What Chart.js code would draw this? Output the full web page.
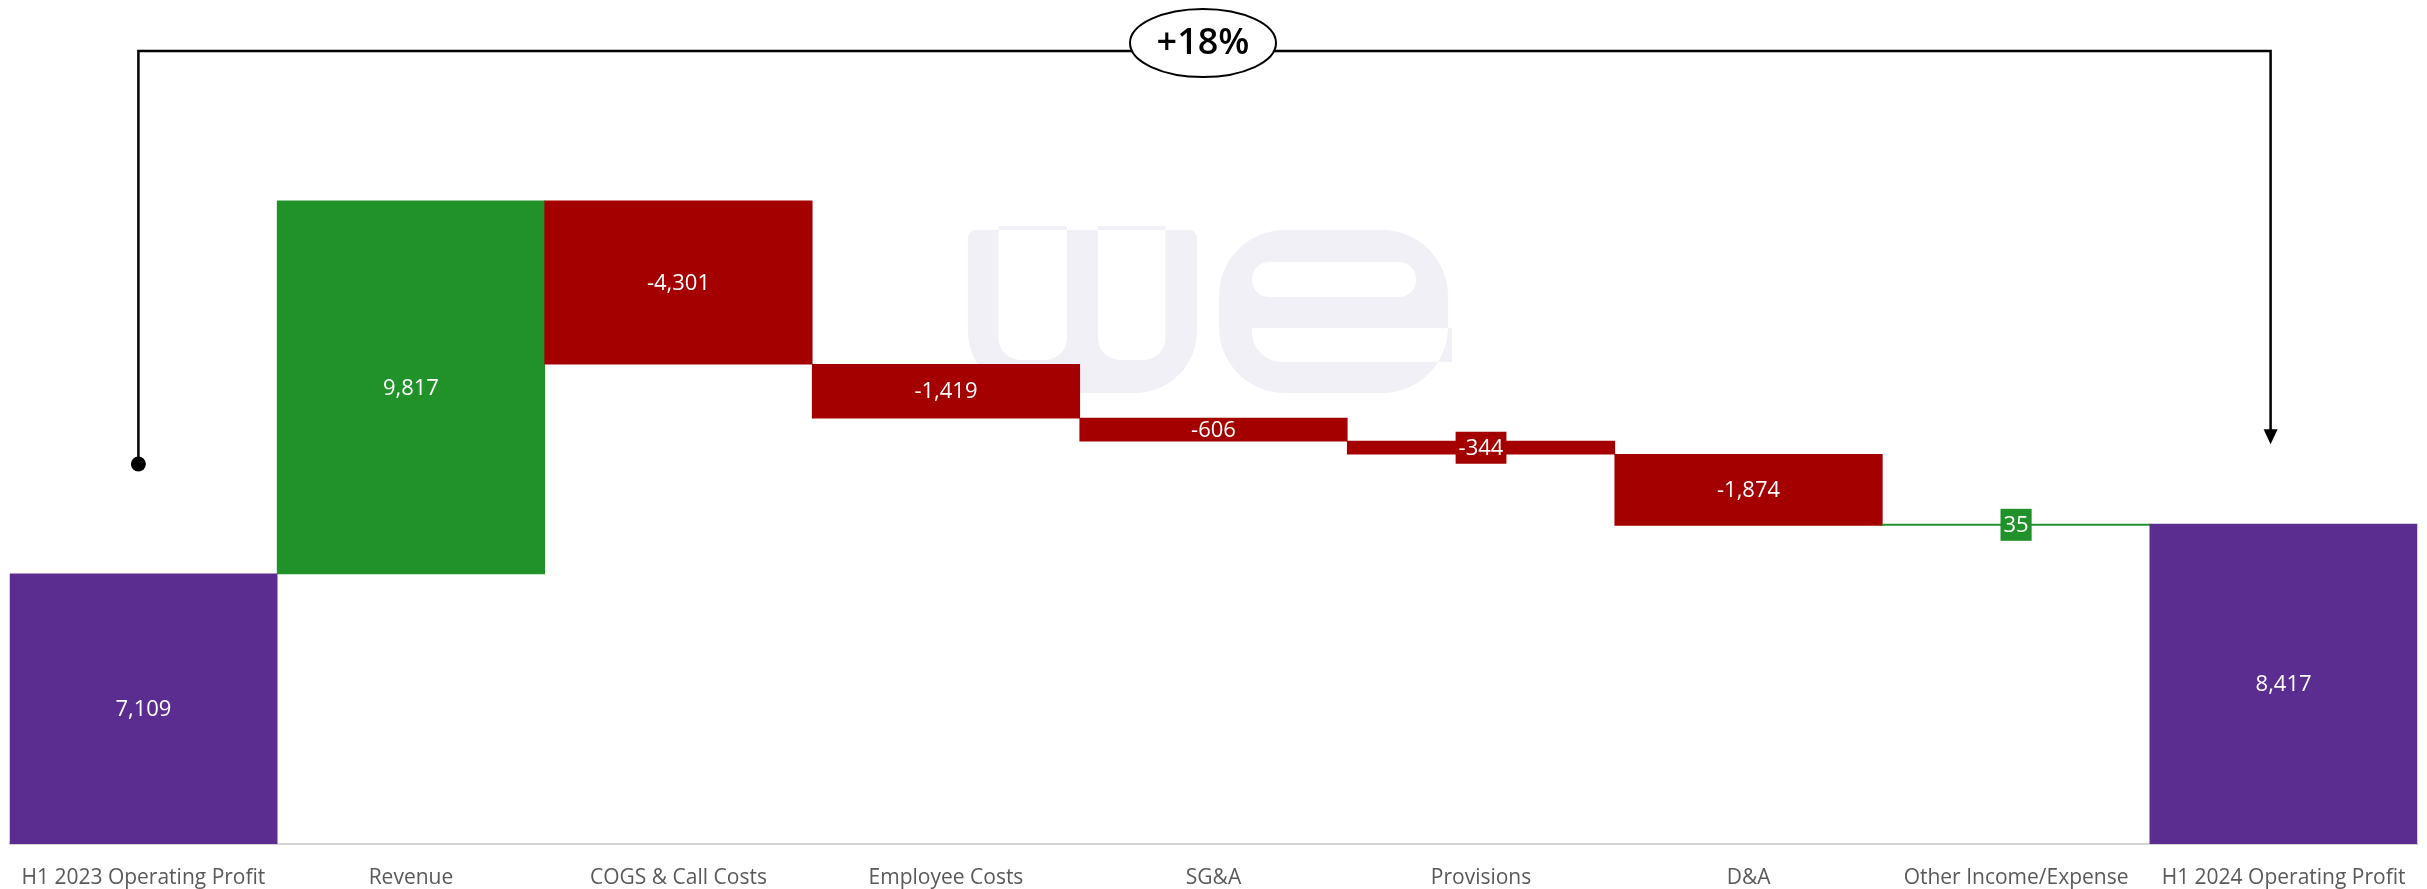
<!DOCTYPE html>
<html>
<head>
<meta charset="utf-8">
<script src="https://cdn.jsdelivr.net/npm/chart.js@4.4.1/dist/chart.umd.min.js"></script>
<style>
  html, body { margin: 0; padding: 0; background: #fff; }
  #wrap { width: 2427px; height: 889px; position: relative; }
</style>
</head>
<body>
<div id="wrap"><canvas id="myChart"></canvas></div>
<script>
const labels = ['H1 2023 Operating Profit', 'Revenue', 'COGS & Call Costs', 'Employee Costs', 'SG&A', 'Provisions', 'D&A', 'Other Income/Expense', 'H1 2024 Operating Profit'];
const values = [7109, 9817, -4301, -1419, -606, -344, -1874, 35, 8417];
const isTotal = [true, false, false, false, false, false, false, false, true];
const changeLabel = '+18%';

const PURPLE = '#5c2d91';
const GREEN = '#21922a';
const RED = '#a50000';

// running total -> floating bars
let run = 0;
const ranges = values.map((v, i) => {
  if (isTotal[i]) { run = v; return [0, v]; }
  const r = [run, run + v];
  run += v;
  return r;
});
const colors = values.map((v, i) => isTotal[i] ? PURPLE : (v >= 0 ? GREEN : RED));

// faint "we" logo behind the chart
const watermark = {
  id: 'watermark',
  beforeDraw(chart) {
    const ctx = chart.ctx;
    ctx.save();
    ctx.fillStyle = '#f0f0f6';
    // w
    ctx.beginPath();
    ctx.roundRect(968, 230, 229, 163, [8, 8, 62, 62]);
    ctx.roundRect(998.5, 226, 68.5, 134, [0, 0, 22, 22]);
    ctx.roundRect(1098, 226, 67.5, 134, [0, 0, 22, 22]);
    ctx.fill('evenodd');
    // e
    ctx.beginPath();
    ctx.roundRect(1219, 230, 229, 163, 66);
    ctx.roundRect(1252, 262, 164, 35, 17);
    ctx.roundRect(1252, 328, 200, 34, [0, 0, 0, 30]);
    ctx.fill('evenodd');
    ctx.restore();
  }
};

// value labels in the bars
const barLabels = {
  id: 'barLabels',
  afterDatasetsDraw(chart) {
    const ctx = chart.ctx;
    const meta = chart.getDatasetMeta(0);
    ctx.save();
    ctx.font = '22px "Open Sans"';
    ctx.textAlign = 'center';
    ctx.textBaseline = 'middle';
    meta.data.forEach((bar, i) => {
      const txt = values[i].toLocaleString('en-US');
      const cy = (bar.y + bar.base) / 2;
      const hgt = Math.abs(bar.base - bar.y);
      if (hgt < 18) {
        const tw = ctx.measureText(txt).width + 6;
        ctx.fillStyle = colors[i];
        ctx.fillRect(bar.x - tw / 2, cy - 16, tw, 32);
      }
      ctx.fillStyle = '#fff';
      ctx.fillText(txt, bar.x, cy + 1);
    });
    ctx.restore();
  }
};

// bracket with change badge on top
const bracket = {
  id: 'bracket',
  afterDraw(chart) {
    const ctx = chart.ctx;
    const meta = chart.getDatasetMeta(0);
    const ys = chart.scales.y;
    const x1 = meta.data[0].x - 5;
    const x2 = meta.data[meta.data.length - 1].x - 13;
    const top = chart.chartArea.top - 33;
    const yDot = ys.getPixelForValue(10000);
    const yTip = ys.getPixelForValue(10520);
    ctx.save();
    ctx.strokeStyle = '#000';
    ctx.fillStyle = '#000';
    ctx.lineWidth = 2.5;
    ctx.beginPath();
    ctx.moveTo(x1, yDot);
    ctx.lineTo(x1, top);
    ctx.lineTo(x2, top);
    ctx.lineTo(x2, yTip - 14);
    ctx.stroke();
    ctx.beginPath();
    ctx.arc(x1, yDot, 7.5, 0, Math.PI * 2);
    ctx.fill();
    ctx.beginPath();
    ctx.moveTo(x2 - 7, yTip - 15);
    ctx.lineTo(x2 + 7, yTip - 15);
    ctx.lineTo(x2, yTip);
    ctx.closePath();
    ctx.fill();
    // badge
    const cx = 1203, cy = 43;
    ctx.beginPath();
    ctx.ellipse(cx, cy, 73, 34, 0, 0, Math.PI * 2);
    ctx.fillStyle = '#fff';
    ctx.fill();
    ctx.lineWidth = 2;
    ctx.stroke();
    ctx.fillStyle = '#000';
    ctx.font = '600 36px "Open Sans"';
    ctx.textAlign = 'center';
    ctx.textBaseline = 'middle';
    ctx.fillText(changeLabel, cx, cy + 1);
    ctx.restore();
  }
};

const ctx = document.getElementById('myChart');

new Chart(ctx, {
  type: 'bar',
  data: {
    labels: labels,
    datasets: [{
      data: ranges,
      backgroundColor: colors,
      borderWidth: 0,
      barPercentage: 1,
      categoryPercentage: 1
    }]
  },
  options: {
    responsive: true,
    maintainAspectRatio: false,
    animation: false,
    layout: { padding: { top: 84, left: 9, right: 9, bottom: 0 } },
    scales: {
      y: {
        display: false,
        min: 0,
        max: 20000
      },
      x: {
        grid: { display: false, drawTicks: false },
        border: { display: true, color: '#d4d4d4', width: 2 },
        ticks: {
          color: '#595959',
          font: { family: '"Open Sans"', size: 21 },
          padding: 21,
          maxRotation: 0,
          autoSkip: false
        },
        afterFit(scale) { scale.height = 45; }
      }
    },
    plugins: {
      legend: { display: false },
      tooltip: { enabled: false }
    }
  },
  plugins: [watermark, barLabels, bracket]
});
</script>
</body>
</html>
